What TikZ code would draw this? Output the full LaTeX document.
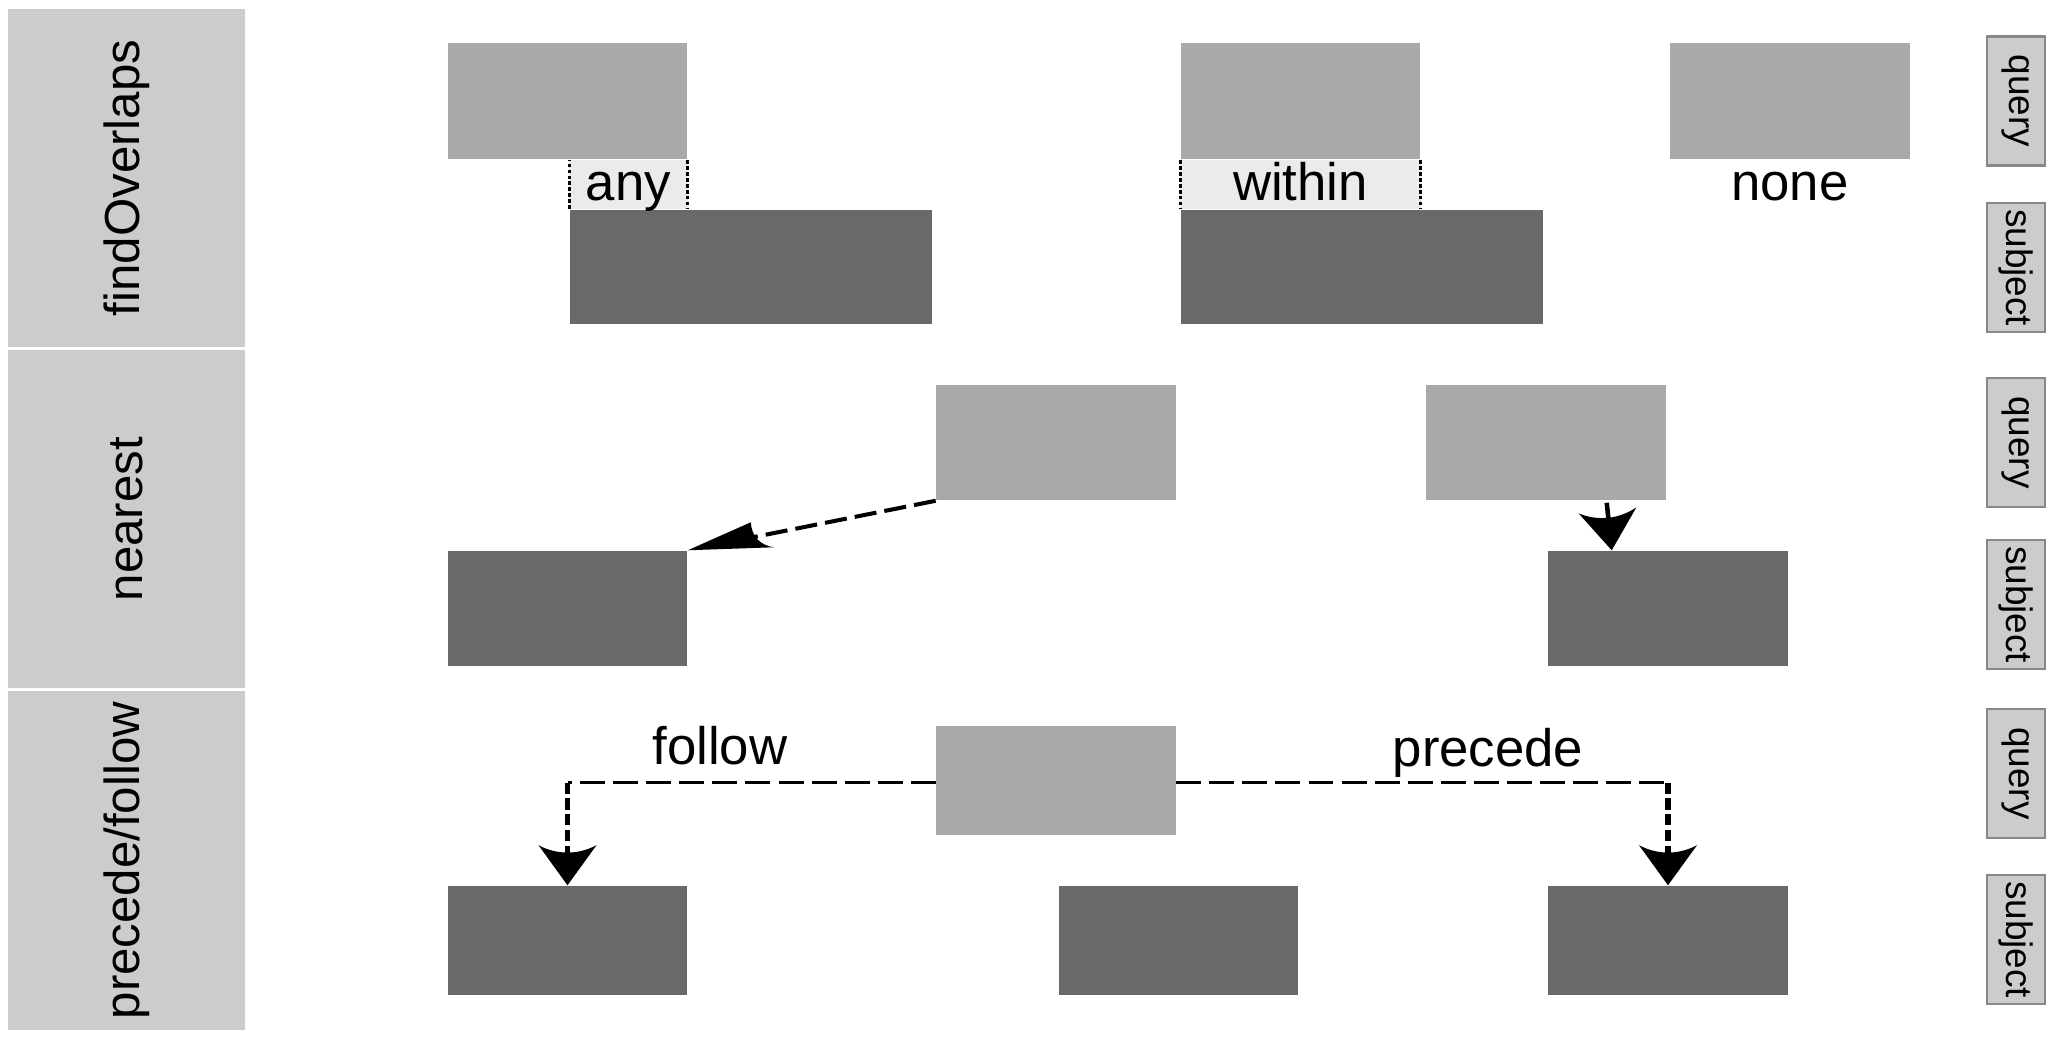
\documentclass[tikz,border=0pt]{standalone}
\usepackage{fontspec}
\setmainfont{Liberation Sans}
\usetikzlibrary{arrows.meta,calc}
\definecolor{qcol}{HTML}{A9A9A9}
\definecolor{scol}{HTML}{696969}
\definecolor{ovcol}{HTML}{EBEBEB}
\definecolor{stripcol}{HTML}{CCCCCC}
\definecolor{tagedge}{HTML}{888888}
\pgfdeclarearrow{
  name = Curvy,
  setup code = {
    \pgfarrowssettipend{0pt}
    \pgfarrowssetbackend{-11.4pt}
    \pgfarrowssetlineend{-9pt}
  },
  drawing code = {
    \pgfpathmoveto{\pgfqpoint{0pt}{0pt}}
    \pgfpathlineto{\pgfqpoint{-11.4pt}{8.25pt}}
    \pgfpathcurveto{\pgfqpoint{-8.6pt}{3pt}}{\pgfqpoint{-8.6pt}{-3pt}}{\pgfqpoint{-11.4pt}{-8.25pt}}
    \pgfpathclose
    \pgfusepathqfill
  }
}
\begin{document}
\begin{tikzpicture}[x=0.01cm,y=-0.01cm,
  rectq/.style={fill=qcol,inner sep=0pt,minimum width=2.39cm,minimum height=1.15cm},
  rects/.style={fill=scol,inner sep=0pt,minimum width=2.39cm,minimum height=1.15cm},
  ovbox/.style={fill=ovcol},
  strip/.style={fill=stripcol,inner sep=0pt,rotate=90,minimum width=3.38cm,minimum height=2.37cm,font=\fontsize{14}{16}\selectfont},
  tag/.style={fill=stripcol,draw=tagedge,line width=0.65pt,inner sep=0pt,rotate=-90,minimum width=1.29cm,minimum height=0.58cm,font=\fontsize{10.5}{12}\selectfont},
  lab/.style={inner sep=0pt,anchor=base,font=\fontsize{15}{18}\selectfont},
  edgedash/.style={line width=0.8pt,dash pattern=on 1.1pt off 0.6pt},
  hdash/.style={line width=0.9pt,dash pattern=on 7.1pt off 2.3pt},
  vdash/.style={line width=1.6pt,dash pattern=on 3.2pt off 1.3pt,-Curvy},
  ddash/.style={line width=1.15pt,dash pattern=on 6.3pt off 2.3pt},
  headfill/.style={fill=black},
  solidarrow/.style={line width=1.3pt,-Curvy}]
\fill[white] (0,0) rectangle (2056,1041);
\useasboundingbox (0,0) rectangle (2056,1041);
% left strips
\node[strip] (st1) at (126.5,178) {findOverlaps};
\node[strip] (st2) at (126.5,519) {nearest};
\node[strip] (st3) at (126.5,860.5) {precede/follow};
% row 1
\node[rectq,minimum height=1.16cm] (q1a) at (567.5,101) {};
\node[rects,minimum width=3.62cm,minimum height=1.14cm] (s1a) at (751,267) {};
\path[ovbox] (s1a.north west) rectangle (q1a.south east);
\draw[edgedash] (s1a.north west) -- (s1a.north west |- q1a.south);
\draw[edgedash] (q1a.south east) -- (q1a.south east |- s1a.north);
\node[lab] (any) at (628.5,200) {any};
\node[rectq,minimum height=1.16cm] (q1b) at (1300.5,101) {};
\node[rects,minimum width=3.62cm,minimum height=1.14cm] (s1b) at (1362,267) {};
\path[ovbox] (q1b.south west) rectangle (q1b.south east |- s1b.north);
\draw[edgedash] (q1b.south west) -- (q1b.south west |- s1b.north);
\draw[edgedash] (q1b.south east) -- (q1b.south east |- s1b.north);
\node[lab] (within) at (1300.5,200) {within};
\node[rectq,minimum height=1.16cm] (q1c) at (1790,101) {};
\node[lab] (none) at (1790,200) {none};
% row 2
\node[rectq] (q2a) at (1056,442.5) {};
\node[rects] (s2a) at (567.5,608.5) {};
\node[rectq] (q2b) at (1546,442.5) {};
\node[rects] (s2b) at (1668,608.5) {};
\coordinate (dtip) at (s2a.north east);
\coordinate (dend) at ($(q2a.south west)!0.75!(s2a.north east)$);
\draw[ddash] (q2a.south west) -- (dend);
\fill[headfill] (dtip) -- ($(dtip)+(63,-28)$)
  .. controls ($(dtip)+(64,-13)$) and ($(dtip)+(73,-5)$) .. ($(dtip)+(86,-3)$) -- cycle;
\coordinate (n2from) at ($(q2b.south west)+(181,2)$);
\coordinate (n2to) at ($(s2b.north west)+(64,0)$);
\draw[solidarrow] (n2from) -- (n2to);
% row 3
\node[rectq,minimum height=1.09cm] (q3) at (1056,780.5) {};
\node[rects,minimum height=1.09cm] (s3a) at (567.5,940.5) {};
\node[rects,minimum height=1.09cm] (s3b) at (1178.5,940.5) {};
\node[rects,minimum height=1.09cm] (s3c) at (1668,940.5) {};
\coordinate (fstart) at ($(q3.west)+(0,2)$);
\coordinate (fcorner) at (fstart -| s3a.north);
\draw[hdash] (fstart) -- (fcorner);
\draw[vdash] (fcorner) -- (s3a.north);
\coordinate (pstart) at ($(q3.east)+(0,2)$);
\coordinate (pcorner) at (pstart -| s3c.north);
\draw[hdash] (pstart) -- (pcorner);
\draw[vdash] (pcorner) -- (s3c.north);
\node[lab] (follow) at (720,764) {follow};
\node[lab] (precede) at (1488,766) {precede};
% right tags
\node[tag] (t1q) at (2016,101) {query};
\node[tag] (t1s) at (2016,267.5) {subject};
\node[tag] (t2q) at (2016,442.5) {query};
\node[tag] (t2s) at (2016,604.5) {subject};
\node[tag] (t3q) at (2016,773.5) {query};
\node[tag] (t3s) at (2016,939.5) {subject};
\end{tikzpicture}
\end{document}
